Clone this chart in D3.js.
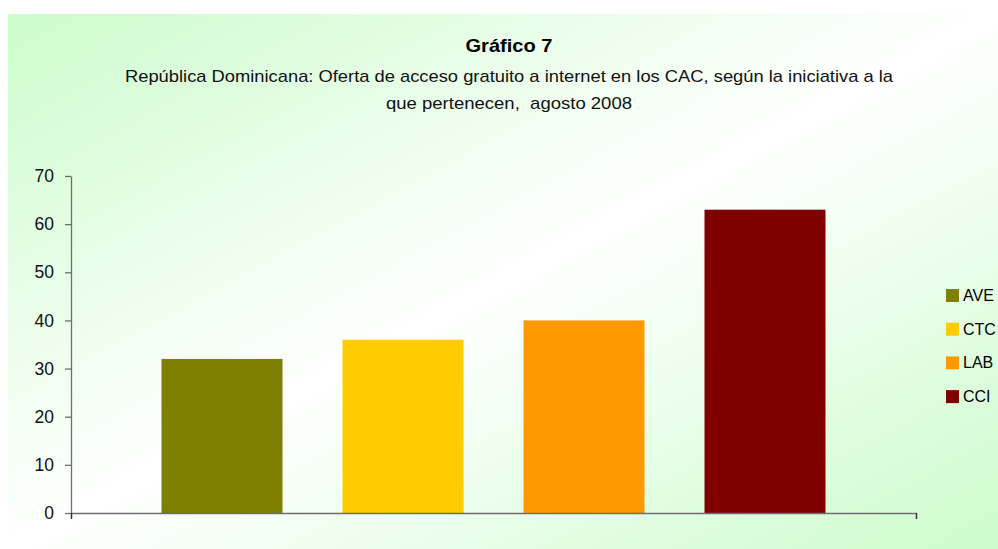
<!DOCTYPE html>
<html>
<head>
<meta charset="utf-8">
<script src="https://cdn.jsdelivr.net/npm/d3@7"></script>
<style>
  body { margin: 0; background: #fff; }
  text { font-family: "Liberation Sans", Arial, sans-serif; }
</style>
</head>
<body>
<div id="chart"></div>
<script>
// data
const series = ["AVE", "CTC", "LAB", "CCI"];
const values = [32, 36, 40, 63];
const colors = ["#808000", "#ffcc00", "#ff9900", "#800000"];
const yTicks = [0, 10, 20, 30, 40, 50, 60, 70];
const title = "Gráfico 7";
const subtitle = ["República Dominicana: Oferta de acceso gratuito a internet en los CAC, según la iniciativa a la",
                  "que pertenecen,  agosto 2008"];
const subtitleWidths = [768, 246];

const width = 998, height = 549;

let svg = d3.select("#chart")
  .append("svg")
    .attr("width", width)
    .attr("height", height);

// background gradient
let defs = svg.append("defs");
let grad = defs.append("linearGradient")
  .attr("id", "bg")
  .attr("x1", "0%").attr("y1", "0%")
  .attr("x2", "100%").attr("y2", "100%");
grad.append("stop").attr("offset", "0%").attr("stop-color", "#ccfccc");
grad.append("stop").attr("offset", "50%").attr("stop-color", "#ffffff");
grad.append("stop").attr("offset", "100%").attr("stop-color", "#ccfccc");

svg.append("rect")
  .attr("x", 8).attr("y", 14)
  .attr("width", width - 8).attr("height", height - 14)
  .attr("fill", "url(#bg)");

// titles
svg.append("text")
  .attr("x", 509).attr("y", 52)
  .attr("text-anchor", "middle")
  .attr("textLength", 87)
  .attr("lengthAdjust", "spacingAndGlyphs")
  .style("font-weight", "bold")
  .style("font-size", "19px")
  .attr("fill", "#000")
  .text(title);

svg.selectAll(".sub")
  .data(subtitle)
  .enter()
  .append("text")
    .attr("class", "sub")
    .attr("x", 509)
    .attr("y", (d, i) => 82 + i * 27)
    .attr("text-anchor", "middle")
    .attr("textLength", (d, i) => subtitleWidths[i])
    .attr("lengthAdjust", "spacingAndGlyphs")
    .style("white-space", "pre")
    .style("font-size", "17px")
    .attr("fill", "#111")
    .text(d => d);

// scales
let x = d3.scaleBand()
  .domain(series)
  .range([71, 916])
  .paddingInner(0.3315)
  .paddingOuter(0.5);

let y = d3.scaleLinear()
  .domain([0, 70])
  .range([513, 176]);

// bars
svg.selectAll(".bar")
  .data(series)
  .enter()
  .append("rect")
    .attr("class", "bar")
    .attr("x", d => x(d))
    .attr("y", (d, i) => y(values[i]))
    .attr("width", x.bandwidth())
    .attr("height", (d, i) => y(0) - y(values[i]))
    .attr("fill", (d, i) => colors[i]);

// y axis
let yAxis = svg.append("g")
  .attr("transform", "translate(71,0)")
  .call(d3.axisLeft(y).tickValues(yTicks).tickSize(6).tickSizeOuter(0).tickPadding(11));
yAxis.select(".domain").attr("stroke", "#6e6e6e").attr("stroke-width", 1.3);
yAxis.selectAll(".tick line").attr("stroke", "#6e6e6e").attr("stroke-width", 1.3);
yAxis.selectAll(".tick text")
  .style("font-size", "17.5px")
  .attr("fill", "#111");

// x axis (just the baseline with end ticks)
let xAxis = svg.append("g")
  .attr("transform", "translate(0," + y(0) + ")")
  .call(d3.axisBottom(d3.scaleLinear().domain([0, 1]).range([71, 916]))
    .tickValues([0, 1]).tickSize(6).tickFormat(""));
xAxis.select(".domain").attr("stroke", "#6e6e6e").attr("stroke-width", 1.3);
xAxis.selectAll(".tick line").attr("stroke", "#333").attr("stroke-width", 1.3);

// legend
let legend = svg.selectAll(".legend")
  .data(series)
  .enter()
  .append("g")
    .attr("class", "legend")
    .attr("transform", (d, i) => "translate(946," + (289 + i * 33.7) + ")");

legend.append("rect")
  .attr("width", 13).attr("height", 13)
  .attr("fill", (d, i) => colors[i]);

legend.append("text")
  .attr("x", 17).attr("y", 12)
  .style("font-size", "16px")
  .attr("fill", "#000")
  .text(d => d);
</script>
</body>
</html>
